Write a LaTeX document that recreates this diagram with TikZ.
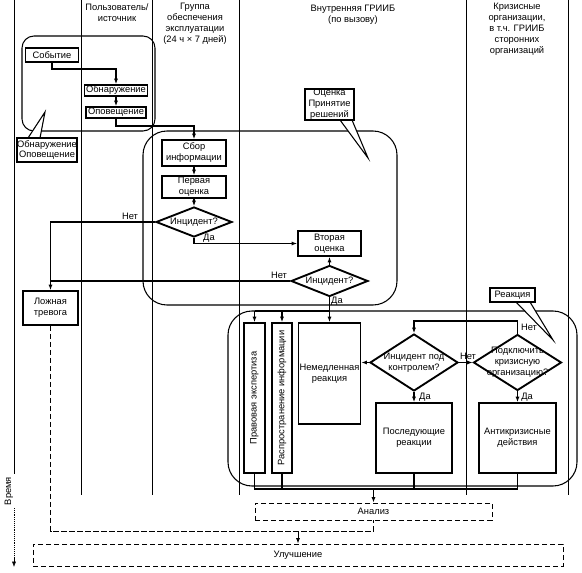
\documentclass[tikz,border=0pt]{standalone}
\usepackage{fontspec}
\setmainfont{Liberation Sans}
\usetikzlibrary{shapes.geometric,arrows.meta}
\newcommand\fs{\fontsize{7}{8.2}\selectfont}
\begin{document}
\begin{tikzpicture}[x=0.75pt,y=-0.75pt,
  every node/.style={font=\fs, inner sep=0pt, align=center},
  sz/.style 2 args={minimum width=#1*0.75pt, minimum height=#2*0.75pt},
  box/.style={draw, line width=1.4pt, fill=white},
  tbox/.style={draw, line width=0.9pt, fill=white},
  dbox/.style={draw, line width=0.7pt, dash pattern=on 4pt off 2pt},
  dia/.style={draw, diamond, line width=1.4pt, fill=white, inner sep=0pt},
  grp/.style={draw, line width=0.8pt, rounded corners=#1},
  lane/.style={line width=0.6pt},
  conn/.style={line width=1.1pt},
  arr/.style={conn, -{Latex[length=4pt,width=3pt]}},
  tarr/.style={line width=0.7pt, -{Latex[length=4pt,width=3pt]}},
  dline/.style={line width=0.7pt, dash pattern=on 4pt off 2pt},
  wedge/.style={fill=white, draw, line width=0.8pt, line join=miter},
]
\path[fill=white] (0,0) rectangle (582,573);
\useasboundingbox (0,0) rectangle (582,573);

% lanes
\draw[lane] (14,0) -- (14,474);
\foreach \lx in {81,152,239,466,568} \draw[lane] (\lx,0) -- (\lx,495);
\node[rotate=90] (time) at (9,491) {Время};
\draw[line width=0.4pt, densely dotted] (14,508) -- (14,560);
\draw[line width=0.4pt, -{Latex[length=4pt,width=3pt]}] (14,558) -- (14,567);

% headers
\node (h1) at (117,13) {Пользователь/\\источник};
\node (h2) at (195,24) {Группа\\обеспечения\\эксплуатации\\(24 ч × 7 дней)};
\node (h3) at (353,15) {Внутренняя ГРИИБ\\(по вызову)};
\node (h4) at (517,29) {Кризисные\\организации,\\в т.ч. ГРИИБ\\сторонних\\организаций};

% groups
\node[grp=9pt, sz={133}{95}] (g1) at (88.5,83.5) {};
\node[grp=18pt, sz={254}{174}] (g2) at (270,218) {};
\node[grp=18pt, sz={349}{175}] (g3) at (402.5,398.5) {};

% callouts
\draw[wedge] (28,138) -- (45,112) -- (40,138);
\node[tbox, sz={60}{24}] (c1) at (47,150) {Обнаружение\\Оповещение};
\draw[wedge] (340,120) -- (368,158) -- (352,120);
\node[tbox, sz={49}{31}] (c2) at (329.5,104.5) {Оценка\\Принятие\\решений};
\draw[wedge] (516,302) -- (553,340) -- (530,302);
\node[tbox, sz={45}{14}] (c3) at (512.5,295) {Реакция};

% boxes
\node[box, sz={53}{14}] (ev) at (52,55) {Событие};
\node[box, sz={63}{11}] (det) at (116,90.5) {Обнаружение};
\node[box, sz={60}{11}] (opv) at (116,112.5) {Оповещение};
\node[box, sz={64}{26}] (sbor) at (194,153) {Сбор\\информации};
\node[box, sz={64}{22}] (perv) at (194,187) {Первая\\оценка};
\node[dia, sz={76}{30}] (d1) at (194,222) {};
\node (d1t) at (d1) {Инцидент?};
\node[box, sz={63}{25}] (vtor) at (329.5,243.5) {Вторая\\оценка};
\node[dia, sz={77}{31}] (d2) at (329.5,281) {};
\node (d2t) at (d2) {Инцидент?};
\node[box, sz={55}{34}] (lozh) at (50.5,308) {Ложная\\тревога};

\node[box, sz={21}{150}] (prav) at (254.5,398) {};
\node[rotate=90] (pravt) at (prav) {Правовая экспертиза};
\node[box, sz={20}{150}] (rasp) at (282,398) {};
\node[rotate=90] (raspt) at (rasp) {Распространение информации};
\node[box, sz={62}{101}] (nem) at (329.5,373.5) {Немедленная\\реакция};
\node[dia, sz={88}{57}] (d3) at (414,362.5) {};
\node (d3t) at (d3) {Инцидент под\\контролем?};
\node[dia, sz={88}{56}] (d4) at (517.5,362.5) {};
\node (d4t) at (d4) {Подключить\\кризисную\\организацию?};
\node[box, sz={76}{70}] (posl) at (414,438) {Последующие\\реакции};
\node[box, sz={77}{70}] (anti) at (517.5,438) {Антикризисные\\действия};

\node[dbox, sz={237}{17}] (anal) at (373.5,511.5) {Анализ};
\node[dbox, sz={530}{22}] (ulu) at (298,555) {Улучшение};

% connectors
\draw[arr] (ev.south) |- (det.north |- 0,69) -- (det.north);
\draw[arr] (det.south) -- (opv.north);
\draw[arr] (opv.south) |- (sbor.north |- 0,126) -- (sbor.north);
\draw[arr] (sbor.south) -- (perv.north);
\draw[arr] (perv.south) -- (d1.north);
\draw[arr] (d1.west) -| (lozh.north);
\node (n1) at (130,216) {Нет};
\draw[arr] (d1.south) |- (vtor.west);
\node (y1) at (209,238) {Да};
\draw[arr] (d2.north) -- (vtor.south);
\draw[conn] (d2.west) -- (lozh.north |- d2.west);
\node (n2) at (279,275) {Нет};
\draw[arr] (d2.south) -- (nem.north);
\node (y2) at (337,301) {Да};
\coordinate (t3) at (329.5,311);
\draw[conn] (t3) -- (prav.north |- t3);
\draw[arr] (prav.north |- t3) -- (prav.north);
\draw[arr] (rasp.north |- t3) -- (rasp.north);
\draw[arr] (d3.west) -- (nem.east |- d3.west);
\draw[arr] (d3.south) -- (posl.north);
\node (y3) at (425,397) {Да};
\draw[arr] (d3.east) -- (d4.west);
\node (n3) at (468,356) {Нет};
\draw[arr] (d4.north) |- (d3.north |- 0,321) -- (d3.north);
\node (n4) at (529,327) {Нет};
\draw[arr] (d4.south) -- (anti.north);
\node (y4) at (527,397) {Да};
\draw[conn] (prav.south) -- (prav.south |- 0,489) -- (anti.south |- 0,489) -- (anti.south);
\draw[conn] (rasp.south) -- (rasp.south |- 0,489);
\draw[conn] (posl.south) -- (posl.south |- 0,489);
\draw[arr] (anal.north |- 0,489) -- (anal.north);
\draw[dline] (lozh.south) |- (anal.south |- 0,531) -- (anal.south);
\draw[tarr] (ulu.north |- 0,531) -- (ulu.north);
\end{tikzpicture}
\end{document}
